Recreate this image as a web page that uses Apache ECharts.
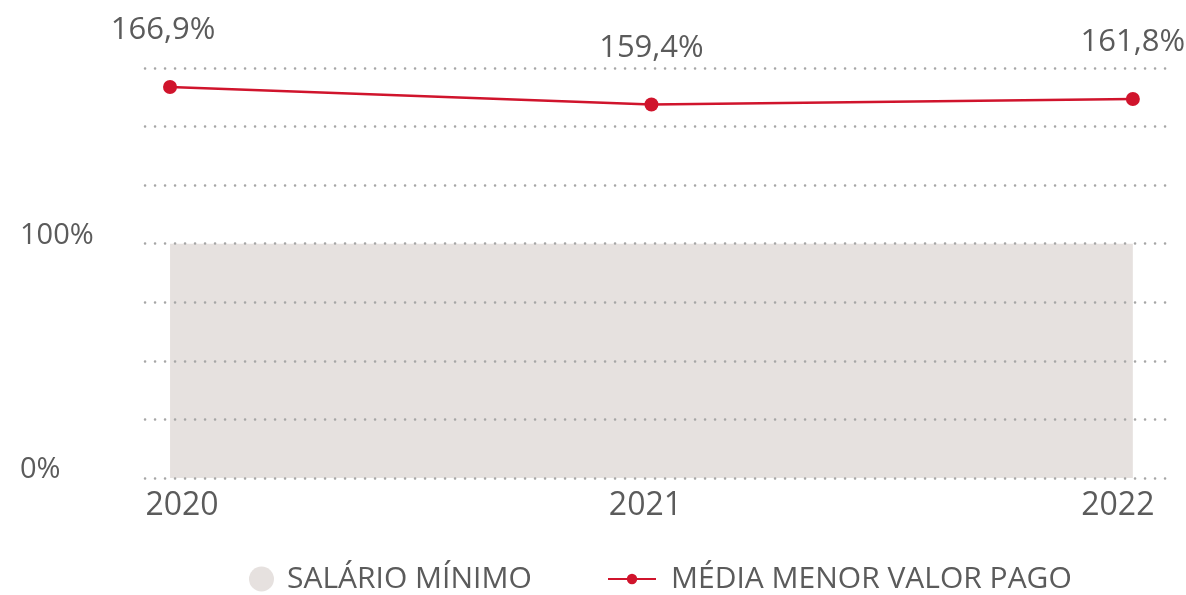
<!DOCTYPE html>
<html>
<head>
<meta charset="utf-8">
<script src="https://cdn.jsdelivr.net/npm/echarts@6/dist/echarts.min.js"></script>
<style>
  html, body { margin: 0; padding: 0; background: #ffffff; }
  #chart { width: 1186px; height: 595px; }
</style>
</head>
<body>
<div id="chart"></div>
<script>
// Years on the horizontal axis
const years = [2020, 2021, 2022];
// Minimum wage reference level (%)
const salarioMinimo = [100, 100, 100];
// Average lowest amount paid, as % of the minimum wage
const mediaMenorValor = [166.9, 159.4, 161.8];
// Percent values that get a label on the vertical axis
const yTickLabels = [0, 100];
// Percent levels of the dotted guide lines
const gridLevels = [0, 25, 50, 75, 100, 125, 150, 175];

const FONT = '"Open Sans", Lato, sans-serif';
const TEXT = '#5b5b5b';
const RED = '#d0142c';
const GRAY = '#e6e1df';
// translucent fill that reads as GRAY on white and lets the dotted guides show through
const GRAY_FILL = 'rgba(172, 155, 148, 0.3)';
const DOTS = { color: '#a6a6a6', width: 2.5, type: [0.1, 9.9], cap: 'round', opacity: 1 };

const chart = echarts.init(document.getElementById('chart'), null, { renderer: 'canvas' });

const fmtPct = v => v.toFixed(1).replace('.', ',') + '%';

chart.setOption({
  animation: false,
  backgroundColor: '#ffffff',
  grid: { left: 145, right: 18, top: 68, bottom: 117, containLabel: false },
  legend: [
    {
      data: [{ name: 'SALÁRIO MÍNIMO', icon: 'circle' }],
      left: 249, top: 564, padding: 0,
      itemWidth: 25, itemHeight: 25, itemGap: 10,
      textStyle: { fontFamily: FONT, fontSize: 30, fontWeight: 500, color: TEXT, padding: [0, 0, 0, 8] }
    },
    {
      data: ['MÉDIA MENOR VALOR PAGO'],
      left: 607, top: 564, padding: 0,
      itemWidth: 48, itemHeight: 13, itemGap: 10,
      textStyle: { fontFamily: FONT, fontSize: 30, fontWeight: 500, color: TEXT, padding: [0, 0, 0, 10] }
    }
  ],
  xAxis: {
    type: 'value',
    min: 2019.948,
    max: 2022.073,
    axisLine: { show: false },
    axisTick: { show: false },
    splitLine: { show: false },
    axisLabel: {
      customValues: years,
      margin: 12,
      formatter: v => {
        if (v === years[0]) return '{a|' + v + '}';
        if (v === years[years.length - 1]) return '{c|' + v + '}';
        return '{b|' + v + '}';
      },
      rich: {
        a: { fontFamily: FONT, fontSize: 32, color: TEXT, padding: [0, 0, 0, 24] },
        b: { fontFamily: FONT, fontSize: 32, color: TEXT, padding: [0, 12, 0, 0] },
        c: { fontFamily: FONT, fontSize: 32, color: TEXT, padding: [0, 30, 0, 0] }
      }
    }
  },
  yAxis: {
    type: 'value',
    min: 0,
    max: 175,
    interval: 25,
    axisLine: { show: false },
    axisTick: { show: false },
    splitLine: { show: false },
    axisLabel: {
      align: 'left',
      verticalAlign: 'bottom',
      lineHeight: 16,
      margin: 125,
      fontFamily: FONT,
      fontSize: 29,
      color: TEXT,
      formatter: v => (yTickLabels.indexOf(v) >= 0 ? v + '%' : '')
    }
  },
  series: [
    {
      name: 'SALÁRIO MÍNIMO',
      type: 'line',
      data: years.map((y, i) => [y, salarioMinimo[i]]),
      symbol: 'none',
      lineStyle: { width: 0 },
      areaStyle: { color: GRAY_FILL, opacity: 1 },
      itemStyle: { color: GRAY },
      z: 1
    },
    {
      name: 'MÉDIA MENOR VALOR PAGO',
      type: 'line',
      zlevel: 1,
      data: years.map((y, i) => [y, mediaMenorValor[i]]),
      symbol: 'circle',
      symbolSize: 14,
      lineStyle: { color: RED, width: 2.5 },
      itemStyle: { color: RED },
      label: {
        show: true,
        position: 'top',
        distance: 34,
        color: TEXT,
        formatter: p => (p.dataIndex === 0 ? '{f|' : '{n|') + fmtPct(p.value[1]) + '}',
        rich: {
          f: { fontFamily: FONT, fontSize: 31, color: TEXT, padding: [0, 14, 0, 0] },
          n: { fontFamily: FONT, fontSize: 31, color: TEXT }
        }
      },
      // dotted guide lines across the plot
      markLine: {
        silent: true,
        zlevel: 1,
        z: 1,
        symbol: ['none', 'none'],
        label: { show: false },
        lineStyle: DOTS,
        emphasis: { disabled: true },
        data: gridLevels.map(v => ({ yAxis: v }))
      },
      z: 3
    }
  ]
});
</script>
</body>
</html>
